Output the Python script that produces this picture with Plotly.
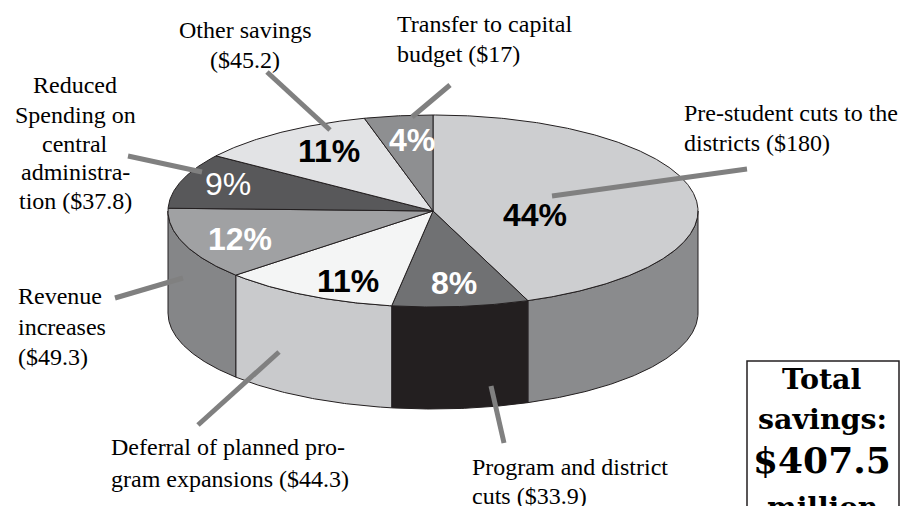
import numpy as np
import plotly.graph_objects as go

categories = ["Pre-student cuts to the districts", "Program and district cuts",
              "Deferral of planned program expansions", "Revenue increases",
              "Reduced Spending on central administration", "Other savings",
              "Transfer to capital budget"]
savings = [180, 33.9, 44.3, 49.3, 37.8, 45.2, 17]
percent_labels = ["44%", "8%", "11%", "12%", "9%", "11%", "4%"]
top_colors = ["#cdced0", "#707173", "#f4f5f5", "#a0a1a3", "#58585a", "#e2e3e5", "#8e8f91"]
side_colors = ["#8a8b8d", "#231f20", "#c9cacc", "#858688", None, None, None]
pct_colors = ["black", "white", "black", "white", "white", "black", "white"]
pct_weights = ["bold", "bold", "bold", "bold", "normal", "bold", "bold"]

W, H = 901, 506
CX, CY, RX, RY, DEPTH = 433, 211, 265, 96, 102
LINE = "#231f20"
LEADER = "#808080"

fig = go.Figure()
total = sum(savings)
edges = np.concatenate([[0], np.cumsum(savings)]) / total * 360


def arc(a, b, dy=0):
    t = np.radians(np.linspace(a, b, max(2, int(abs(b - a) * 2) + 1)))
    return CX + RX * np.sin(t), CY + dy - RY * np.cos(t)


def poly(x, y, color):
    fig.add_trace(go.Scatter(x=x, y=y, mode="lines", fill="toself", fillcolor=color,
                             line=dict(color=LINE, width=1), hoverinfo="skip",
                             showlegend=False))


# side wall
for i, col in enumerate(side_colors):
    a, b = max(edges[i], 90), min(edges[i + 1], 270)
    if col is None or a >= b:
        continue
    x1, y1 = arc(a, b)
    x2, y2 = arc(b, a, DEPTH)
    poly(np.r_[x1, x2, x1[0]], np.r_[y1, y2, y1[0]], col)

# top face
for i, col in enumerate(top_colors):
    x, y = arc(edges[i], edges[i + 1])
    poly(np.r_[CX, x, CX], np.r_[CY, y, CY], col)

# leader lines
leaders = [(267, 72, 330, 130), (450, 85, 412, 117), (747, 169, 552, 196),
           (128, 156, 202, 172), (115, 298, 183, 278), (198, 425, 279, 352),
           (491, 386, 504, 443)]
for x0, y0, x1, y1 in leaders:
    fig.add_shape(type="line", x0=x0, y0=y0, x1=x1, y1=y1, xref="x", yref="y",
                  line=dict(color=LEADER, width=5), layer="above")

# percent labels
pct_pos = [(535, 215), (454, 283), (348, 281), (240, 239), (228, 184), (329, 151), (412, 140)]
for txt, (x, y), c, w in zip(percent_labels, pct_pos, pct_colors, pct_weights):
    fig.add_annotation(x=x, y=y, text=txt, showarrow=False, xanchor="center", yanchor="middle",
                       font=dict(family="Liberation Sans", size=32, color=c, weight=w))

# category labels
SERIF = "Liberation Serif"
label_lines = [
    ("Other savings", 245, 30, "center"), ("($45.2)", 245, 60, "center"),
    ("Transfer to capital", 395, 24, "left"), ("budget ($17)", 395, 54, "left"),
    ("Pre-student cuts to the", 682, 113, "left"), ("districts ($180)", 682, 143, "left"),
    ("Reduced", 75, 85, "center"), ("Spending on", 75, 115, "center"),
    ("central", 75, 144, "center"), ("administra-", 75, 172, "center"),
    ("tion ($37.8)", 75, 201, "center"),
    ("Revenue", 16, 296, "left"), ("increases", 16, 327, "left"), ("($49.3)", 16, 357, "left"),
    ("Deferral of planned pro-", 109, 447, "left"), ("gram expansions ($44.3)", 109, 479, "left"),
    ("Program and district", 470, 467, "left"), ("cuts ($33.9)", 470, 496, "left"),
]
for txt, x, y, anchor in label_lines:
    fig.add_annotation(x=x, y=y, text=txt, showarrow=False, xanchor=anchor, yanchor="middle",
                       font=dict(family=SERIF, size=24, color="black"))

# total box
fig.add_shape(type="rect", x0=747, y0=361, x1=899, y1=530, xref="x", yref="y",
              line=dict(color=LINE, width=1.5), fillcolor="white", layer="above")
box_lines = [("Total", 379, 28.5), ("savings:", 419, 28.5), ("$407.5", 460, 36), ("million", 507, 28)]
for txt, y, size in box_lines:
    fig.add_annotation(x=822 / W, y=1 - y / H, xref="paper", yref="paper", text=txt,
                       showarrow=False, xanchor="center", yanchor="middle",
                       font=dict(family="DejaVu Serif", size=size, color="black", weight="bold"))

fig.update_layout(width=W, height=H, margin=dict(l=0, r=0, t=0, b=0), showlegend=False,
                  paper_bgcolor="white", plot_bgcolor="white",
                  xaxis=dict(range=[0, W], visible=False, fixedrange=True),
                  yaxis=dict(range=[H, 0], visible=False, fixedrange=True))
fig.write_html("out.html", config=dict(displayModeBar=False),
               post_script="document.body.style.margin='0';document.body.style.overflow='hidden';")
